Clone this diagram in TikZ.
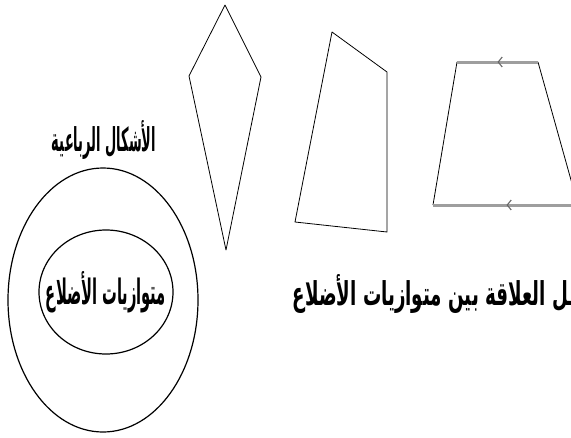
\documentclass[tikz,border=0pt]{standalone}
\usepackage{fontspec}
\newfontfamily\arabicfont[Script=Arabic]{DejaVu Sans}
\TeXXeTstate=1
\usetikzlibrary{decorations.markings,arrows.meta}
\begin{document}
\begin{tikzpicture}[x=1pt,y=-1pt,line join=round,
  shp/.style={draw=black,line width=0.8pt},
  ring/.style={draw=black,line width=1.2pt},
  parallel/.style={draw=black!38,line width=3pt,postaction={decorate},
    decoration={markings,mark=at position 0.5 with {\arrow[black!60]{Straight Barb[length=4pt,width=10pt,line width=1.1pt]}}}},
  lbl/.style={inner sep=0pt,font=\arabicfont\bfseries}]
\useasboundingbox (0,0) rectangle (571,437);
\clip (0,0) rectangle (571,437);
% kite
\draw[shp] (225,5) -- (261,77) -- (226,250) -- (189,76) -- cycle;
% quadrilateral
\draw[shp] (332,32) -- (387,72) -- (387,232) -- (295,222) -- cycle;
% trapezoid
\draw[shp] (457,62) -- (433,205);
\draw[shp] (538,62) -- (578,205);
\draw[parallel] (538,62) -- (457,62);
\draw[parallel] (580,205) -- (433,205);
% Venn
\draw[ring] (103,300) ellipse [x radius=95,y radius=132];
\draw[ring] (106,292) ellipse [x radius=67,y radius=62];
\node[lbl,anchor=base] (quad) at (104,151) {\resizebox{104pt}{31pt}{\beginR الأشكال الرباعية\endR}};
\node[lbl,anchor=base] (para) at (106,304) {\resizebox{120pt}{33pt}{\beginR متوازيات الأضلاع\endR}};
\node[lbl,anchor=base east] (rel) at (575,305) {\resizebox{282pt}{31pt}{\beginR ـل العلاقة بين متوازيات الأضلاع\endR}};
\end{tikzpicture}
\end{document}
